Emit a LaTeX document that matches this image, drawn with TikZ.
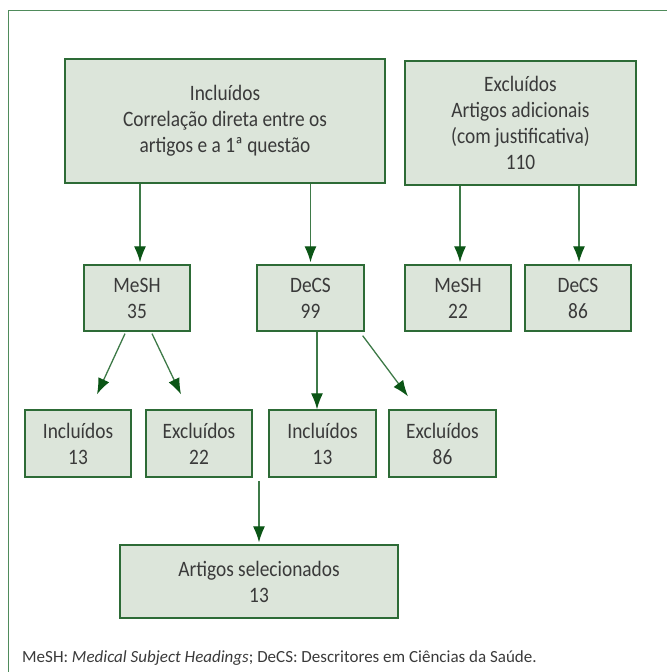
\documentclass[tikz,border=0pt]{standalone}
\usepackage{fontspec}
\setmainfont{Carlito}[FakeStretch=0.88]
\newfontfamily\notefont{Carlito}
\usetikzlibrary{arrows.meta}
\definecolor{boxfill}{HTML}{DCE5DA}
\definecolor{boxline}{HTML}{2D6B36}
\definecolor{linegreen}{HTML}{3E7A48}
\definecolor{arrowgreen}{HTML}{0B5516}
\definecolor{framegreen}{HTML}{4F8B5B}
\definecolor{textgray}{HTML}{3A3A3A}
\tikzset{>={Latex[length=16pt, width=12pt, color=arrowgreen]}}

\begin{document}
\begin{tikzpicture}[x=1pt, y=1pt,
    box/.style={draw=boxline, fill=boxfill, line width=1.3pt, text=textgray,
        align=center, inner sep=0pt, font=\fontsize{22}{26}\selectfont},
    arr/.style={->, draw=linegreen, line width=1.3pt}]
    \useasboundingbox (0, 0) rectangle (667, 672);
    \draw[framegreen, line width=1.5pt](8.5, 0)--(8.5, 661.5)--(667, 661.5);

    % top row
    \node[box, minimum width=320, minimum height=124] (inc) at (225, 551)
        {Incluídos\\Correlação direta entre os\\artigos e a 1ª questão};
    \node[box, minimum width=231, minimum height=124] (exc) at (520.5, 549)
        {Excluídos\\Artigos adicionais\\(com justificativa)\\110};

    % databases
    \node[box, minimum width=106, minimum height=66] (mesh1) at (137, 374) {MeSH\\35};
    \node[box, minimum width=107, minimum height=66] (decs1) at (310.5, 374) {DeCS\\99};
    \node[box, minimum width=106, minimum height=66] (mesh2) at (458, 374) {MeSH\\22};
    \node[box, minimum width=106, minimum height=66] (decs2) at (578, 374) {DeCS\\86};

    % screening
    \node[box, minimum width=106, minimum height=67] (inc13a) at (78, 228.5) {Incluídos\\13};
    \node[box, minimum width=106, minimum height=67] (exc22) at (199, 228.5) {Excluídos\\22};
    \node[box, minimum width=107, minimum height=67] (inc13b) at (322.5, 228.5) {Incluídos\\13};
    \node[box, minimum width=107, minimum height=67] (exc86) at (442.5, 228.5) {Excluídos\\86};

    \node[box, minimum width=278, minimum height=73] (sel) at (259, 90.5) {Artigos selecionados\\13};

    \node[anchor=west, text=textgray, inner sep=0pt, font=\notefont\fontsize{17}{19}\selectfont] (note) at (22, 14)
        {MeSH: \textit{Medical Subject Headings}; DeCS: Descritores em Ciências da Saúde.};

    % arrows
    \draw[arr, shorten >=2pt]([xshift=3pt]mesh1.north |- inc.south)--([xshift=3pt]mesh1.north);
    \draw[arr, shorten >=2pt](decs1.north |- inc.south)--(decs1.north);
    \draw[arr, shorten >=2pt]([xshift=2pt]mesh2.north |- exc.south)--([xshift=2pt]mesh2.north);
    \draw[arr, shorten >=2pt]([xshift=1pt]decs2.north |- exc.south)--([xshift=1pt]decs2.north);
    \draw[arr]([xshift=-12pt, yshift=-2pt]mesh1.south)--([xshift=19pt, yshift=15pt]inc13a.north);
    \draw[arr]([xshift=15pt, yshift=-2pt]mesh1.south)--([xshift=-18pt, yshift=15pt]exc22.north);
    \draw[arr]([xshift=6.5pt]decs1.south)--([xshift=6.5pt]decs1.south |- inc13b.north);
    \draw[arr]([xshift=-2pt, yshift=-4pt]decs1.south east)--([xshift=-34.5pt, yshift=13pt]exc86.north);
    \coordinate (selin) at ([yshift=63pt]sel.north);
    \draw[arr, shorten >=2pt](selin)--(sel.north);
\end{tikzpicture}
\end{document}
